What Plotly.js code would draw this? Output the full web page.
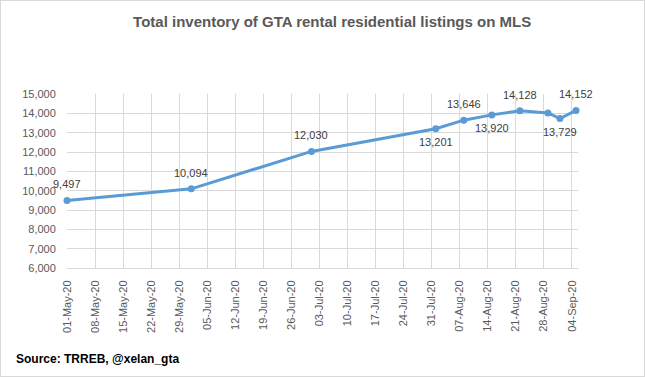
<!DOCTYPE html>
<html>
<head>
<meta charset="utf-8">
<script src="https://cdn.plot.ly/plotly-3.0.1.min.js"></script>
<style>
html,body{margin:0;padding:0;background:#fff;}
#chart{width:643px;height:375px;border:1px solid #d9d9d9;}
</style>
</head>
<body>
<div id="chart"></div>
<script>
const dates = ['2020-05-01','2020-06-01','2020-07-01','2020-08-01','2020-08-08','2020-08-15','2020-08-22','2020-08-29','2020-09-01','2020-09-05'];
const listings = [9497,10094,12030,13201,13646,13920,14128,14020,13729,14152];
const labelShown = [true,true,true,true,true,true,true,false,true,true];
const labelSide = ['above','above','above','below','above','below','above','above','below','above'];

const FONT = 'Liberation Sans, Arial, sans-serif';

const trace = {
  x: dates,
  y: listings,
  type: 'scatter',
  mode: 'lines+markers',
  line: {color: '#5B9BD5', width: 3},
  marker: {color: '#5B9BD5', size: 7},
  cliponaxis: false,
  hoverinfo: 'x+y'
};

const labelAnns = [];
dates.forEach((d, i) => {
  if (!labelShown[i]) return;
  labelAnns.push({
    x: d, y: listings[i], xref: 'x', yref: 'y',
    text: listings[i].toLocaleString('en-US'),
    showarrow: false, xanchor: 'center', yanchor: 'middle',
    yshift: labelSide[i] === 'above' ? 16 : -13,
    font: {family: FONT, size: 11, color: '#404040'}
  });
});

const layout = {
  width: 643, height: 375,
  margin: {l: 66, r: 66, t: 93, b: 108},
  paper_bgcolor: '#fff', plot_bgcolor: '#fff',
  showlegend: false,
  title: {
    text: '<b>Total inventory of GTA rental residential listings on MLS</b>',
    x: 0.515, xanchor: 'center', y: 0.945, yanchor: 'middle',
    font: {family: FONT, size: 15, color: '#595959'}
  },
  xaxis: {
    type: 'date',
    range: ['2020-05-01', '2020-09-05 12:00'],
    tick0: '2020-05-01', dtick: 7*24*3600*1000,
    tickformat: '%d-%b-%y', tickangle: -90,
    showgrid: true, gridcolor: '#d9d9d9', gridwidth: 1,
    showline: true, linecolor: '#d9d9d9', linewidth: 1,
    ticks: 'outside', ticklen: 7, tickcolor: 'rgba(0,0,0,0)',
    tickfont: {family: FONT, size: 11, color: '#595959'},
    zeroline: false
  },
  yaxis: {
    range: [6000, 15000], dtick: 1000, tickformat: ',d',
    showgrid: true, gridcolor: '#d9d9d9', gridwidth: 1,
    showline: false, zeroline: false,
    ticks: 'outside', ticklen: 8, tickcolor: 'rgba(0,0,0,0)',
    tickfont: {family: FONT, size: 11, color: '#595959'}
  },
  annotations: labelAnns.concat([{
    text: '<b>Source: TRREB, @xelan_gta</b>',
    xref: 'paper', yref: 'paper', x: -0.104, y: -0.525,
    xanchor: 'left', yanchor: 'middle', showarrow: false,
    font: {family: FONT, size: 12, color: '#000'}
  }])
};

Plotly.newPlot('chart', [trace], layout, {displayModeBar: false, staticPlot: true});
</script>
</body>
</html>
